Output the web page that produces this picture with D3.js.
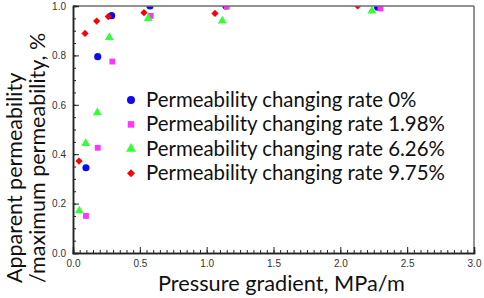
<!DOCTYPE html>
<html><head><meta charset="utf-8">
<script src="https://cdn.jsdelivr.net/npm/d3@7"></script>
<style>html,body{margin:0;padding:0;background:#fff;}svg{display:block;}</style>
</head><body>
<svg id="c" width="484" height="298"></svg>
<script>
// ---- data ----
const seriesNames = ["Permeability changing rate 0%", "Permeability changing rate 1.98%", "Permeability changing rate 6.26%", "Permeability changing rate 9.75%"];
const rate0_x = [0.097, 0.185, 0.289, 0.576, 1.144, 2.279];
const rate0_y = [0.345, 0.795, 0.961, 1.000, 1.000, 0.995];
const rate198_x = [0.097, 0.185, 0.294, 0.581, 1.150, 2.300];
const rate198_y = [0.150, 0.426, 0.775, 0.960, 0.997, 0.990];
const rate626_x = [0.047, 0.095, 0.182, 0.272, 0.563, 1.117, 2.236];
const rate626_y = [0.171, 0.444, 0.568, 0.873, 0.950, 0.940, 0.980];
const rate975_x = [0.045, 0.090, 0.177, 0.264, 0.531, 1.062, 2.130];
const rate975_y = [0.372, 0.889, 0.939, 0.957, 0.973, 0.970, 1.000];
const xTicks = [0.0, 0.5, 1.0, 1.5, 2.0, 2.5, 3.0];
const yTicks = [0.0, 0.2, 0.4, 0.6, 0.8, 1.0];
const xTitle = "Pressure gradient, MPa/m";
const yTitle1 = "Apparent permeability";
const yTitle2 = "/maximum permeability, %";

const colors = ["#0a0af5", "#ff33ff", "#33ff33", "#ff0000"];
const shapes = ["circle", "square", "triangle", "diamond"];

const series = [
  {name: seriesNames[0], xs: rate0_x, ys: rate0_y},
  {name: seriesNames[1], xs: rate198_x, ys: rate198_y},
  {name: seriesNames[2], xs: rate626_x, ys: rate626_y},
  {name: seriesNames[3], xs: rate975_x, ys: rate975_y}
];

const svg = d3.select("#c");
const L = 73, R = 474, T = 6, B = 253;
const x = d3.scaleLinear().domain([0, 3]).range([L, R]);
const y = d3.scaleLinear().domain([0, 1]).range([B, T]);

function symPath(shape, big) {
  const k = big ? 1.25 : 1;
  if (shape === "circle") return d3.symbol(d3.symbolCircle, 40 * k)();
  if (shape === "square") return d3.symbol(d3.symbolSquare, 34 * k)();
  if (shape === "triangle") return d3.symbol(d3.symbolTriangle, 34 * k)();
  return d3.symbol(d3.symbolSquare, 26 * k)();
}
function symTransform(shape, px, py) {
  return shape === "diamond" ? `translate(${px},${py}) rotate(45)` : `translate(${px},${py})`;
}

// clip
svg.append("clipPath").attr("id", "clip").append("rect")
  .attr("x", L).attr("y", T).attr("width", R - L).attr("height", B - T);

// points
const pts = svg.append("g").attr("clip-path", "url(#clip)");
series.forEach((s, i) => {
  const data = s.xs.map((v, j) => [v, s.ys[j]]);
  pts.selectAll(null).data(data).enter().append("path")
    .attr("d", symPath(shapes[i]))
    .attr("transform", d => symTransform(shapes[i], x(d[0]), y(d[1])))
    .attr("fill", colors[i]);
});

// frame top/right
svg.append("line").attr("x1", L).attr("x2", R).attr("y1", T).attr("y2", T)
  .attr("stroke", "#6e6e6e").attr("stroke-width", 1.5);
svg.append("line").attr("x1", R).attr("x2", R).attr("y1", T).attr("y2", B)
  .attr("stroke", "#6e6e6e").attr("stroke-width", 1.5);

// axes
const xMinor = d3.range(0, 3.0001, 0.05).map(v => +v.toFixed(2));
const yMinor = d3.range(0, 1.0001, 0.05).map(v => +v.toFixed(2));

const gx = svg.append("g").attr("transform", `translate(0,${B})`)
  .call(d3.axisBottom(x).tickValues(xMinor).tickSize(-3).tickFormat(""));
gx.selectAll("text").remove();
const gx2 = svg.append("g").attr("transform", `translate(0,${B})`)
  .call(d3.axisBottom(x).tickValues(xTicks).tickSize(-6).tickPadding(7).tickFormat(d3.format(".1f")));
const gy = svg.append("g").attr("transform", `translate(${L},0)`)
  .call(d3.axisLeft(y).tickValues(yMinor).tickSize(-3).tickFormat(""));
const gy2 = svg.append("g").attr("transform", `translate(${L},0)`)
  .call(d3.axisLeft(y).tickValues(yTicks).tickSize(-6).tickPadding(7).tickFormat(d3.format(".1f")));
[gx, gx2, gy, gy2].forEach(g => {
  g.select(".domain").attr("stroke", "#222").attr("stroke-width", 1.5);
  g.selectAll(".tick line").attr("stroke", "#222").attr("stroke-width", 1);
  g.selectAll("text").attr("font-family", "Liberation Sans, Arial, sans-serif")
    .attr("font-size", 10).attr("fill", "#333");
});
gx2.selectAll("text").attr("dy", "0.71em");

const FONT = "Lato, sans-serif";
function fit(sel, target) {
  let fs = +sel.attr("font-size");
  for (let k = 0; k < 3; k++) {
    const w = sel.node().getComputedTextLength();
    fs = fs * target / w;
    sel.attr("font-size", fs);
  }
}

// legend
const lg = svg.append("g");
series.forEach((s, i) => {
  const cy = 100 + i * 24.4;
  lg.append("path").attr("d", symPath(shapes[i], true))
    .attr("transform", symTransform(shapes[i], 131, cy)).attr("fill", colors[i]);
  const t = lg.append("text").attr("x", 146).attr("y", cy + 7)
    .attr("font-family", FONT).attr("font-size", 20).attr("fill", "#111").text(s.name);
  if (i === 1) fit(t, 299);
});
const legFs = lg.selectAll("text").filter((d, i) => i === 1).attr("font-size");
lg.selectAll("text").attr("font-size", legFs);

// axis titles
const xt = svg.append("text").attr("x", 158).attr("y", 291)
  .attr("font-family", FONT).attr("font-size", 21).attr("fill", "#111").text(xTitle);
fit(xt, 247);
svg.append("text").attr("transform", "translate(22,283) rotate(-90)")
  .attr("font-family", FONT).attr("font-size", 21.5).attr("fill", "#111").text(yTitle1);
svg.append("text").attr("transform", "translate(45,283) rotate(-90)")
  .attr("font-family", FONT).attr("font-size", 21.5).attr("fill", "#111").text(yTitle2);
</script>
</body></html>
